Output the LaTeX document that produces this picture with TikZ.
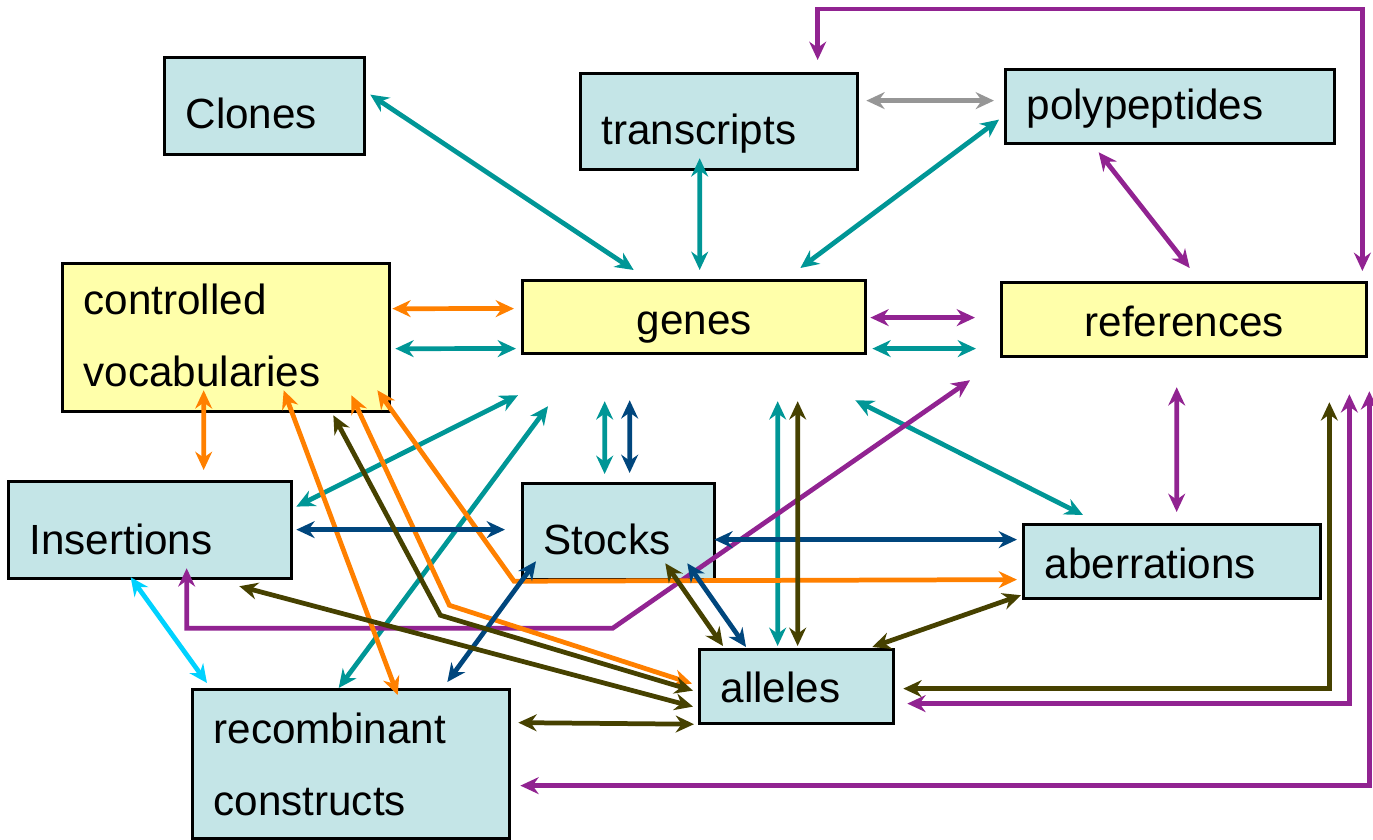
\documentclass[tikz,border=0pt]{standalone}
\usepackage{fontspec}
\setmainfont{Liberation Sans}
\usetikzlibrary{arrows.meta}

\definecolor{boxcyan}{RGB}{196,229,231}
\definecolor{boxyellow}{RGB}{255,255,170}
\definecolor{cteal}{RGB}{0,150,150}
\definecolor{corange}{RGB}{255,128,0}
\definecolor{cpurple}{RGB}{145,35,145}
\definecolor{cblue}{RGB}{0,70,125}
\definecolor{colive}{RGB}{70,65,0}
\definecolor{cgrey}{RGB}{150,150,150}
\definecolor{csky}{RGB}{0,210,255}

\begin{document}
\begin{tikzpicture}[x=0.01cm, y=-0.01cm,
  box/.style={draw, line width=0.9pt, fill=boxcyan, anchor=north west, inner xsep=0.21cm, inner ysep=0pt,
    align=left, text depth=0pt, font=\fontsize{12}{20.5}\selectfont},
  link/.style={line width=1.35pt, {Stealth[length=5.2pt,width=4.8pt,inset=1.7pt]}-{Stealth[length=5.2pt,width=4.8pt,inset=1.7pt]}},
  tealline/.style={link, cteal},
  greyline/.style={link, cgrey},
  purpleline/.style={link, cpurple},
  orangeline/.style={link, corange},
  blueline/.style={link, cblue},
  oliveline/.style={link, colive},
  skyline/.style={link, csky}]

\useasboundingbox (0,0) rectangle (1373,839);

\node[box, minimum width=2cm, minimum height=0.97cm, text width=1.58cm, text height=0.44cm] (clones) at (163,56) {Clones};
\node[box, minimum width=2.77cm, minimum height=0.96cm, text width=2.35cm, text height=0.46cm] (transcripts) at (579,72) {transcripts};
\node[box, minimum width=3.29cm, minimum height=0.74cm, text width=2.87cm, text height=0.26cm] (polypeptides) at (1004,68) {polypeptides};
\node[box, fill=boxyellow, minimum width=3.27cm, minimum height=1.48cm, text width=2.85cm, text height=0pt, text depth=0.46cm] (vocab) at (61,262) {controlled\\vocabularies};
\node[box, fill=boxyellow, align=center, minimum width=3.43cm, minimum height=0.73cm, text width=3.01cm, text height=0.35cm] (genes) at (521,279) {genes};
\node[box, fill=boxyellow, align=center, minimum width=3.65cm, minimum height=0.74cm, text width=3.23cm, text height=0.34cm] (refs) at (1000,281) {references};
\node[box, minimum width=2.83cm, minimum height=0.97cm, text width=2.41cm, text height=0.48cm] (insertions) at (7,480) {Insertions};
\node[box, minimum width=1.92cm, minimum height=0.96cm, text width=1.5cm, text height=0.46cm] (stocks) at (521,482) {Stocks};
\node[box, minimum width=2.97cm, minimum height=0.74cm, text width=2.55cm, text height=0.34cm] (aberrations) at (1022,523) {aberrations};
\node[box, minimum width=1.94cm, minimum height=0.74cm, text width=1.52cm, text height=0.32cm] (alleles) at (698,648) {alleles};
\node[box, minimum width=3.17cm, minimum height=1.49cm, text width=2.75cm, text height=0pt, text depth=0.41cm] (constructs) at (191,688) {recombinant\\constructs};

% teal
\draw[tealline] ([shift={(4,-11.5)}]clones.east) -- ([shift={(-60.5,-9)}]genes.north);
\draw[tealline] ([shift={(-19.5,-13)}]transcripts.south) -- ([shift={(5.5,-9)}]genes.north);
\draw[tealline] ([shift={(-5,13)}]polypeptides.west) -- ([shift={(-67,-11)}]genes.north east);
\draw[tealline] ([shift={(4,11)}]vocab.east) -- ([shift={(-5,31.5)}]genes.west);
\draw[tealline] ([shift={(5,31.5)}]genes.east) -- ([shift={(-24,29)}]refs.west);
\draw[tealline] ([shift={(3,-23.5)}]insertions.east) -- ([shift={(-3,40)}]genes.south west);
\draw[tealline] ([shift={(-12.5,0)}]constructs.north) -- ([shift={(27,51)}]genes.south west);
\draw[tealline] ([shift={(-14,-8)}]stocks.north) -- ([shift={(-89.5,46)}]genes.south);
\draw[tealline] ([shift={(-19,-2)}]alleles.north) -- ([shift={(83.5,46)}]genes.south);
\draw[tealline] ([shift={(61,-8)}]aberrations.north west) -- ([shift={(-12,45)}]genes.south east);

% grey
\draw[greyline] ([shift={(7,-21)}]transcripts.east) -- ([shift={(-10,-6)}]polypeptides.west);

% purple
\draw[purpleline] ([shift={(-71.5,7)}]polypeptides.south) -- ([shift={(5.5,-13)}]refs.north);
\draw[purpleline] ([shift={(98.5,-12)}]transcripts.north) -- ++(0,-51) -| ([shift={(-6,-10)}]refs.north east);
\draw[purpleline] ([shift={(3,0.5)}]genes.east) -- ([shift={(-25,-2)}]refs.west);
\draw[purpleline] ([shift={(-7.5,29)}]refs.south) -- ([shift={(4.5,-11)}]aberrations.north);
\draw[purpleline] ([shift={(36.5,-12)}]insertions.south) -- ++(0,60) -- ++(426,0) -- ([shift={(-30,22)}]refs.south west);
\draw[purpleline] ([shift={(12,17)}]alleles.east) -| ([shift={(-19,36)}]refs.south east);
\draw[purpleline] ([shift={(9,21.5)}]constructs.east) -| ([shift={(1,33)}]refs.south east);

% orange
\draw[orangeline] ([shift={(1,-29)}]vocab.east) -- ([shift={(-7,-8.5)}]genes.west);
\draw[orangeline] ([shift={(-22.5,-23)}]vocab.south) -- ([shift={(53.5,-10)}]insertions.north);
\draw[orangeline] ([shift={(57.5,-23)}]vocab.south) -- ([shift={(46.5,7)}]constructs.north);
\draw[orangeline] ([shift={(-14,-23)}]vocab.south east) -- ([shift={(-7,0)}]stocks.south west) -- ([shift={(-5,18)}]aberrations.west);
\draw[orangeline] ([shift={(-40,-18)}]vocab.south east) -- ++(98,210) -- ([shift={(-6,-3)}]alleles.west);

% dark blue
\draw[blueline] ([shift={(11,-9)}]stocks.north) -- ([shift={(-64.5,45)}]genes.south);
\draw[blueline] ([shift={(3,-0.5)}]insertions.east) -- ([shift={(-16,-2)}]stocks.west);
\draw[blueline] ([shift={(-2,8)}]stocks.east) -- ([shift={(-5,-22)}]aberrations.west);
\draw[blueline] ([shift={(15,-20)}]stocks.south west) -- ([shift={(-64,-6)}]constructs.north east);
\draw[blueline] ([shift={(-29,-18)}]stocks.south east) -- ([shift={(48,-1)}]alleles.north west);

% olive
\draw[oliveline] ([shift={(1,-2)}]alleles.north) -- ([shift={(103.5,46)}]genes.south);
\draw[oliveline] ([shift={(-58,2)}]vocab.south east) -- ++(107,200) -- ([shift={(-5,4)}]alleles.west);
\draw[oliveline] ([shift={(-54,6)}]insertions.south east) -- ([shift={(-5,20)}]alleles.west);
\draw[oliveline] ([shift={(7,-41.5)}]constructs.east) -- ([shift={(-4,-1)}]alleles.south west);
\draw[oliveline] ([shift={(-51,-18)}]stocks.south east) -- ([shift={(25,-2)}]alleles.north west);
\draw[oliveline] ([shift={(-23,-1)}]alleles.north east) -- ([shift={(-1,-5)}]aberrations.south west);
\draw[oliveline] ([shift={(8,2)}]alleles.east) -| ([shift={(-39,44)}]refs.south east);

% light blue
\draw[skyline] ([shift={(-19.5,-3)}]insertions.south) -- ([shift={(16,-5)}]constructs.north west);

\end{tikzpicture}
\end{document}
